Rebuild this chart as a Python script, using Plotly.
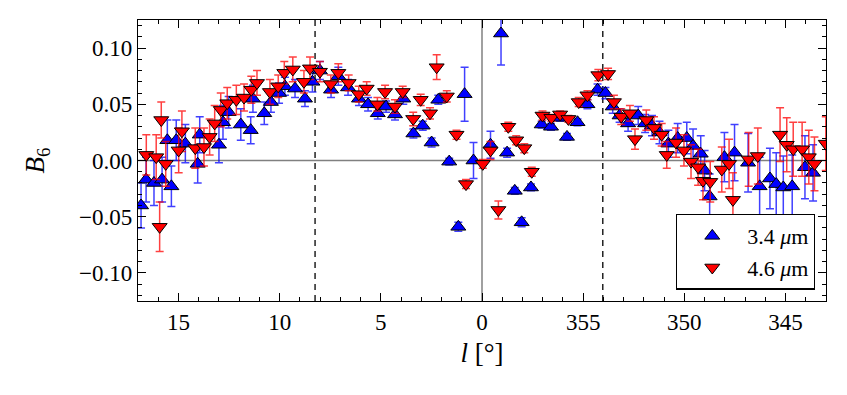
import plotly.graph_objects as go

# galactic longitude in degrees (negative = 360 - l), B6 values
l_w1 = [16.85, 16.60, 16.21, 15.81, 15.55, 15.35, 15.11, 14.66, 14.05, 13.95,
        13.00, 12.80, 12.52, 11.92, 11.43, 11.32, 10.76, 10.43, 10.03, 9.74,
        9.24, 8.75, 8.38, 8.01, 7.46, 7.10, 6.62, 6.08, 5.63, 5.15,
        4.74, 4.30, 3.89, 3.39, 2.93, 2.49, 2.16, 1.62, 1.17, 0.86,
        0.42, -0.42, -0.94, -1.24, -1.62, -1.96, -2.42, -2.95, -3.41, -3.86,
        -4.20, -4.72, -5.21, -5.71, -6.10, -6.46, -6.80, -7.22, -7.72, -8.06,
        -8.40, -8.77, -9.21, -9.67, -10.12, -10.43, -10.81, -11.00, -11.25, -11.98,
        -12.48, -13.15, -13.72, -14.23, -14.54, -14.89, -15.33, -15.96, -16.36]
b6_w1 = [-0.040, -0.017, -0.020, -0.017, 0.018, -0.023, 0.018, 0.015, -0.003, 0.023,
         0.014, 0.034, 0.043, 0.032, 0.027, 0.055, 0.042, 0.052, 0.060, 0.066,
         0.064, 0.055, 0.070, 0.080, 0.063, 0.075, 0.065, 0.055, 0.050, 0.042,
         0.048, 0.041, 0.055, 0.024, 0.031, 0.016, 0.054, -0.001, -0.059, 0.059,
         0.000, 0.014, 0.113, 0.007, -0.027, -0.055, -0.024, 0.032, 0.030, 0.038,
         0.021, 0.034, 0.050, 0.063, 0.060, 0.048, 0.040, 0.033, 0.040, 0.033,
         0.031, 0.025, 0.015, 0.020, 0.020, 0.013, 0.006, -0.009, -0.032, 0.003,
         0.007, -0.002, -0.023, -0.016, -0.021, -0.024, -0.023, -0.006, -0.011]
err_w1 = [0.020, 0.020, 0.020, 0.020, 0.018, 0.018, 0.018, 0.017, 0.017, 0.016,
          0.016, 0.015, 0.014, 0.014, 0.012, 0.012,
          0.010, 0.009, 0.009, 0.008, 0.008, 0.007, 0.009, 0.008, 0.007, 0.008,
          0.007, 0.006, 0.006, 0.005, 0.005, 0.005, 0.005,
          0.004, 0.004, 0.004, 0.004, 0.003, 0.004, 0.024, 0.016,
          0.012, 0.028, 0.004, 0.003, 0.004, 0.003, 0.003, 0.003, 0.003, 0.003,
          0.003, 0.004,
          0.005, 0.005, 0.006, 0.006, 0.007, 0.008, 0.008, 0.009, 0.010,
          0.012, 0.013, 0.014, 0.015, 0.016, 0.018, 0.020,
          0.022, 0.025, 0.026, 0.026, 0.027, 0.028, 0.028, 0.028, 0.028, 0.025]

l_w2 = [16.59, 16.10, 15.93, 15.85, 15.63, 14.99, 14.83, 14.17, 13.74, 13.46,
        13.21, 12.91, 12.59, 12.14, 11.76, 11.40, 11.12, 10.48, 10.07, 9.77,
        9.35, 8.80, 8.50, 8.01, 7.47, 7.10, 6.59, 6.09, 5.70, 5.17,
        4.79, 4.30, 3.92, 3.40, 3.03, 2.57, 2.24, 1.74, 1.26, 0.79,
        -0.04, -0.42, -0.81, -1.30, -1.69, -2.09, -2.46, -2.99, -3.43, -3.86,
        -4.27, -4.78, -5.21, -5.75, -6.23, -6.52, -6.88, -7.31, -7.56, -8.12,
        -8.50, -8.88, -9.13, -9.59, -9.98, -10.33, -10.68, -10.92, -11.28, -11.85,
        -12.21, -12.40, -13.18, -13.63, -14.73, -15.06, -15.38, -15.82, -16.15, -16.43,
        -16.99]
b6_w2 = [0.005, 0.003, -0.059, 0.036, -0.003, 0.009, 0.026, 0.011, 0.012, 0.021,
         0.033, 0.045, 0.051, 0.054, 0.056, 0.063, 0.069, 0.061, 0.066, 0.078,
         0.081, 0.070, 0.082, 0.079, 0.068, 0.078, 0.069, 0.059, 0.064, 0.050,
         0.061, 0.048, 0.061, 0.037, 0.054, 0.042, 0.083, 0.057, 0.023, -0.021,
         -0.003, 0.009, -0.044, 0.030, 0.018, 0.011, -0.010, 0.040, 0.038, 0.041,
         0.037, 0.052, 0.058, 0.076, 0.077, 0.052, 0.039, 0.042, 0.019, 0.036,
         0.029, 0.023, 0.005, 0.016, 0.009, -0.001, -0.006, -0.018, -0.019, -0.008,
         -0.003, -0.035, 0.001, 0.004, 0.023, 0.014, 0.010, 0.010, 0.003, -0.003,
         0.015]
err_w2 = [0.018, 0.020, 0.022, 0.016, 0.020,
          0.020, 0.018, 0.018, 0.017, 0.016, 0.016,
          0.015, 0.014, 0.013, 0.012, 0.012, 0.011,
          0.011, 0.010, 0.010, 0.011, 0.010, 0.010, 0.009, 0.008, 0.008, 0.007,
          0.007, 0.006, 0.006, 0.006, 0.006, 0.005, 0.006, 0.005, 0.005,
          0.011, 0.005, 0.004, 0.004, 0.004, 0.008, 0.008, 0.004, 0.004, 0.004,
          0.004,
          0.004, 0.003, 0.003, 0.003, 0.004, 0.004,
          0.005, 0.005, 0.006, 0.007, 0.007, 0.009, 0.009, 0.010, 0.010,
          0.012, 0.013, 0.014, 0.015, 0.016, 0.017, 0.018, 0.020, 0.022, 0.024,
          0.024, 0.025, 0.024, 0.024, 0.024, 0.024, 0.024, 0.024, 0.024]

x_ticks = [15, 10, 5, 0, -5, -10, -15]
x_labels = ["15", "10", "5", "0", "355", "350", "345"]
y_ticks = [-0.10, -0.05, 0.0, 0.05, 0.10]
dashed_l = [8.25, -5.97]

FONT = "'Liberation Serif', 'DejaVu Serif', serif"

fig = go.Figure()

fig.add_trace(go.Scatter(
    x=l_w1, y=b6_w1, mode="markers", name="3.4 <i>μ</i>m",
    marker=dict(symbol="triangle-up", size=13, color="#0000ff",
                line=dict(color="black", width=1)),
    error_y=dict(type="data", array=err_w1, color="rgba(0,0,255,0.75)",
                 thickness=1.5, width=4)))

fig.add_trace(go.Scatter(
    x=l_w2, y=b6_w2, mode="markers", name="4.6 <i>μ</i>m",
    marker=dict(symbol="triangle-down", size=13, color="#ff0000",
                line=dict(color="black", width=1)),
    error_y=dict(type="data", array=err_w2, color="rgba(255,0,0,0.75)",
                 thickness=1.5, width=4)))

# zero lines and the dashed markers
fig.add_hline(y=0, line=dict(color="gray", width=1.5), layer="below")
fig.add_vline(x=0, line=dict(color="gray", width=1.5), layer="below")
for xd in dashed_l:
    fig.add_vline(x=xd, line=dict(color="black", width=1.3, dash="6px,5px"),
                  layer="below")

axis_common = dict(
    showline=True, linecolor="black", linewidth=1.3, mirror="allticks",
    ticks="inside", ticklen=8, tickwidth=1.3, tickcolor="black",
    showgrid=False, zeroline=False,
    tickfont=dict(family=FONT, size=23, color="black"),
)

fig.update_xaxes(
    range=[17, -17], tickvals=x_ticks, ticktext=x_labels,
    minor=dict(dtick=1, ticks="inside", ticklen=4, tickcolor="black",
               tickwidth=1, showgrid=False),
    title=dict(text="<i>l</i> [°]", font=dict(family=FONT, size=27, color="black"),
               standoff=9),
    **axis_common)

fig.update_yaxes(
    range=[-0.125, 0.125], tickvals=y_ticks, tickformat=".2f",
    minor=dict(dtick=0.01, tick0=0, ticks="inside", ticklen=4, tickcolor="black",
               tickwidth=1, showgrid=False),
    title=dict(text="<i>B</i><sub>6</sub>", font=dict(family=FONT, size=27, color="black"),
               standoff=26),
    **axis_common)

# page body adds an 8px offset, so margins are shifted to keep the plot area in place
fig.update_layout(
    width=847, height=395,
    margin=dict(l=130, r=29, t=12, b=102),
    paper_bgcolor="white", plot_bgcolor="white",
    showlegend=True,
    legend=dict(x=0.984, y=0.04, xanchor="right", yanchor="bottom",
                bgcolor="white", bordercolor="black", borderwidth=1.3,
                font=dict(family=FONT, size=22, color="black"),
                itemwidth=60, tracegroupgap=4),
)

fig.write_html("out.html")
